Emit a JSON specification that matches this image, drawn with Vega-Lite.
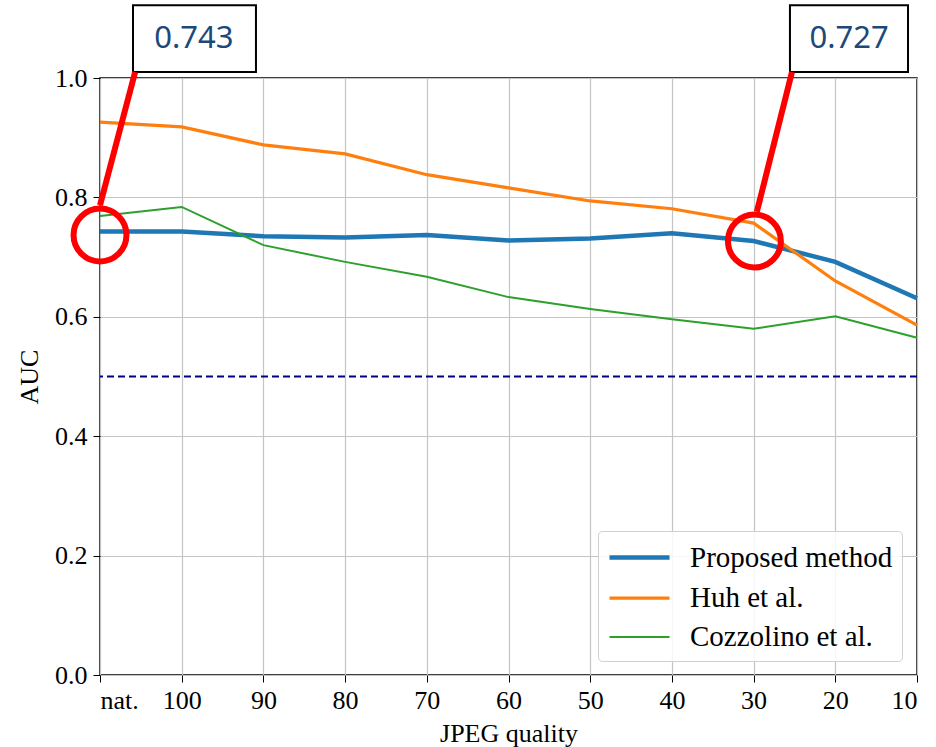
{
  "$schema": "https://vega.github.io/schema/vega-lite/v6.json",
  "width": 817,
  "height": 597,
  "autosize": {"type": "none"},
  "padding": {"left": 100, "top": 78, "right": 19, "bottom": 72},
  "background": "white",
  "config": {
    "view": {"stroke": "black", "strokeWidth": 1.5},
    "font": "Liberation Serif",
    "axis": {
      "labelFont": "Liberation Serif",
      "titleFont": "Liberation Serif",
      "labelFontSize": 26,
      "titleFontSize": 26,
      "labelColor": "black",
      "titleColor": "black",
      "titleFontWeight": "normal",
      "gridColor": "#c4c4c4",
      "gridWidth": 1.2,
      "tickColor": "black",
      "tickSize": 7,
      "domain": false
    },
    "legend": {
      "title": null,
      "orient": "none",
      "legendX": 498,
      "legendY": 453,
      "symbolType": "M-1,0H3",
      "symbolSize": 900,
      "labelFont": "Liberation Serif",
      "labelFontSize": 29,
      "labelColor": "black",
      "labelLimit": 400,
      "labelOffset": 48,
      "rowPadding": 8,
      "padding": 9,
      "strokeColor": "#d0d0d0",
      "fillColor": "rgba(255,255,255,0.85)",
      "cornerRadius": 4
    }
  },
  "datasets": {
    "series": [
      {"q": 0, "auc": 0.743, "method": "Proposed method"},
      {"q": 1, "auc": 0.743, "method": "Proposed method"},
      {"q": 2, "auc": 0.735, "method": "Proposed method"},
      {"q": 3, "auc": 0.733, "method": "Proposed method"},
      {"q": 4, "auc": 0.737, "method": "Proposed method"},
      {"q": 5, "auc": 0.728, "method": "Proposed method"},
      {"q": 6, "auc": 0.731, "method": "Proposed method"},
      {"q": 7, "auc": 0.740, "method": "Proposed method"},
      {"q": 8, "auc": 0.727, "method": "Proposed method"},
      {"q": 9, "auc": 0.692, "method": "Proposed method"},
      {"q": 10, "auc": 0.631, "method": "Proposed method"},
      {"q": 0, "auc": 0.926, "method": "Huh et al."},
      {"q": 1, "auc": 0.918, "method": "Huh et al."},
      {"q": 2, "auc": 0.888, "method": "Huh et al."},
      {"q": 3, "auc": 0.873, "method": "Huh et al."},
      {"q": 4, "auc": 0.838, "method": "Huh et al."},
      {"q": 5, "auc": 0.816, "method": "Huh et al."},
      {"q": 6, "auc": 0.794, "method": "Huh et al."},
      {"q": 7, "auc": 0.781, "method": "Huh et al."},
      {"q": 8, "auc": 0.757, "method": "Huh et al."},
      {"q": 9, "auc": 0.660, "method": "Huh et al."},
      {"q": 10, "auc": 0.586, "method": "Huh et al."},
      {"q": 0, "auc": 0.769, "method": "Cozzolino et al."},
      {"q": 1, "auc": 0.784, "method": "Cozzolino et al."},
      {"q": 2, "auc": 0.720, "method": "Cozzolino et al."},
      {"q": 3, "auc": 0.692, "method": "Cozzolino et al."},
      {"q": 4, "auc": 0.667, "method": "Cozzolino et al."},
      {"q": 5, "auc": 0.633, "method": "Cozzolino et al."},
      {"q": 6, "auc": 0.613, "method": "Cozzolino et al."},
      {"q": 7, "auc": 0.596, "method": "Cozzolino et al."},
      {"q": 8, "auc": 0.580, "method": "Cozzolino et al."},
      {"q": 9, "auc": 0.601, "method": "Cozzolino et al."},
      {"q": 10, "auc": 0.565, "method": "Cozzolino et al."}
    ],
    "boxes": [
      {"x1": 0.404, "x2": 1.909, "y1": 1.010, "y2": 1.122, "xc": 1.15, "yc": 1.066, "label": "0.743"},
      {"x1": 8.445, "x2": 9.89, "y1": 1.010, "y2": 1.122, "xc": 9.17, "yc": 1.066, "label": "0.727"}
    ],
    "pointers": [
      {"id": "a", "x": 0.0, "y": 0.787},
      {"id": "a", "x": 0.43, "y": 1.010},
      {"id": "b", "x": 8.04, "y": 0.776},
      {"id": "b", "x": 8.47, "y": 1.010}
    ],
    "circles": [
      {"x": 0.0, "y": 0.737},
      {"x": 8.01, "y": 0.727}
    ]
  },
  "layer": [
    {
      "data": {"name": "series"},
      "mark": {"type": "line", "clip": false},
      "encoding": {
        "x": {
          "field": "q", "type": "quantitative",
          "scale": {"domain": [0, 10], "nice": false, "zero": false},
          "axis": {
            "title": "JPEG quality",
            "values": [0,1,2,3,4,5,6,7,8,9,10],
            "labelExpr": "datum.value == 0 ? 'nat.' : toString(110 - datum.value * 10)",
            "titlePadding": 7,
            "labelPadding": 5
          }
        },
        "y": {
          "field": "auc", "type": "quantitative",
          "scale": {"domain": [0, 1], "nice": false},
          "axis": {
            "title": "AUC",
            "values": [0, 0.2, 0.4, 0.6, 0.8, 1.0],
            "format": ".1f",
            "titlePadding": 12,
            "labelPadding": 6
          }
        },
        "color": {
          "field": "method", "type": "nominal",
          "scale": {
            "domain": ["Proposed method", "Huh et al.", "Cozzolino et al."],
            "range": ["#1f77b4", "#ff7f0e", "#2ca02c"]
          },
          "legend": {}
        },
        "strokeWidth": {
          "field": "method", "type": "nominal",
          "scale": {
            "domain": ["Proposed method", "Huh et al.", "Cozzolino et al."],
            "range": [4.5, 2, 2]
          },
          "legend": {}
        }
      }
    },
    {
      "data": {"values": [{"y": 0.5}]},
      "mark": {"type": "rule", "color": "#000080", "strokeWidth": 2, "strokeDash": [7, 4]},
      "encoding": {"y": {"field": "y", "type": "quantitative"}}
    },
    {
      "data": {"name": "boxes"},
      "mark": {"type": "rect", "fill": "white", "stroke": "black", "strokeWidth": 2, "clip": false},
      "encoding": {
        "x": {"field": "x1", "type": "quantitative"},
        "x2": {"field": "x2"},
        "y": {"field": "y1", "type": "quantitative"},
        "y2": {"field": "y2"}
      }
    },
    {
      "data": {"name": "boxes"},
      "mark": {"type": "text", "font": "Noto Sans", "fontSize": 31, "color": "#1b4a78", "align": "center", "baseline": "middle", "clip": false},
      "encoding": {
        "x": {"field": "xc", "type": "quantitative"},
        "y": {"field": "yc", "type": "quantitative"},
        "text": {"field": "label"}
      }
    },
    {
      "data": {"name": "pointers"},
      "mark": {"type": "line", "color": "#ff0000", "strokeWidth": 6, "clip": false},
      "encoding": {
        "x": {"field": "x", "type": "quantitative"},
        "y": {"field": "y", "type": "quantitative"},
        "detail": {"field": "id"}
      }
    },
    {
      "data": {"name": "circles"},
      "mark": {"type": "point", "shape": "circle", "size": 2800, "stroke": "#ff0000", "strokeWidth": 6, "filled": false, "opacity": 1, "clip": false},
      "encoding": {
        "x": {"field": "x", "type": "quantitative"},
        "y": {"field": "y", "type": "quantitative"}
      }
    }
  ]
}
